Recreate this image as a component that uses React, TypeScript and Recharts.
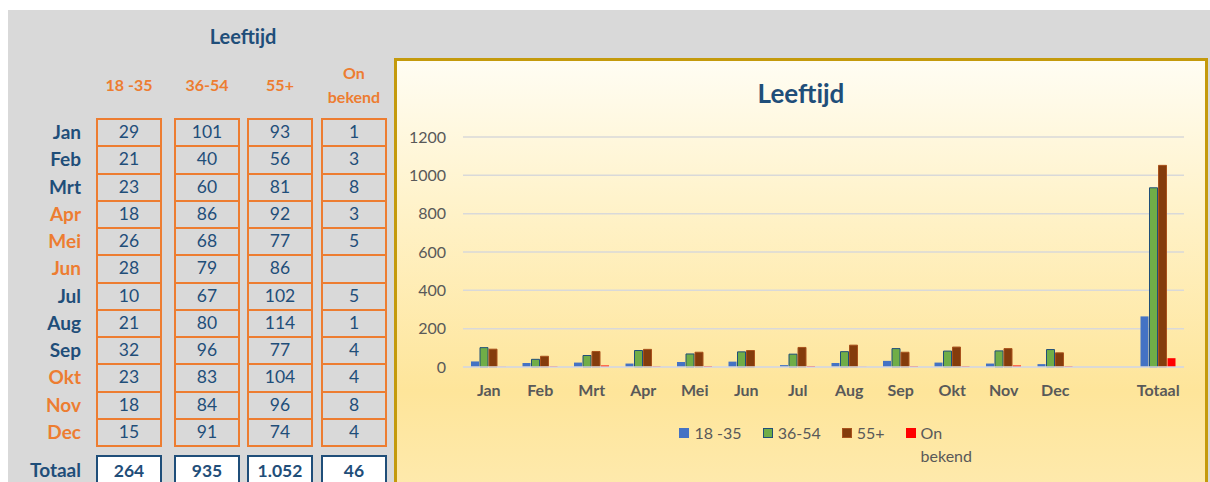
import React from "react";
import {
  BarChart,
  Bar,
  XAxis,
  YAxis,
  CartesianGrid,
  Legend,
} from "recharts";

const MONTHS = ["Jan", "Feb", "Mrt", "Apr", "Mei", "Jun", "Jul", "Aug", "Sep", "Okt", "Nov", "Dec"];
const AGE_GROUPS = ["18 -35", "36-54", "55+", "On bekend"];
const AGE_18_35 = [29, 21, 23, 18, 26, 28, 10, 21, 32, 23, 18, 15];
const AGE_36_54 = [101, 40, 60, 86, 68, 79, 67, 80, 96, 83, 84, 91];
const AGE_55_PLUS = [93, 56, 81, 92, 77, 86, 102, 114, 77, 104, 96, 74];
const AGE_UNKNOWN: (number | null)[] = [1, 3, 8, 3, 5, null, 5, 1, 4, 4, 8, 4];
const TOTALS = [264, 935, 1052, 46];
const TOTAL_LABEL = "Totaal";
const Y_TICKS = [0, 200, 400, 600, 800, 1000, 1200];

const COLUMNS = [AGE_18_35, AGE_36_54, AGE_55_PLUS, AGE_UNKNOWN];
const KEYS = ["a", "b", "c", "d"];

const BLUE = "#1f4e79";
const ORANGE = "#ed7d31";
const GREY_TXT = "#595959";
const FONT = "Lato, 'Open Sans', sans-serif";

const SERIES = [
  { key: "a", fill: "#4472c4", stroke: "none" },
  { key: "b", fill: "#70ad47", stroke: "#1f4e79" },
  { key: "c", fill: "#843c0c", stroke: "#a9521c" },
  { key: "d", fill: "#ff0000", stroke: "none" },
];

const chartData = [
  ...MONTHS.map((m, i) => ({ name: m, a: AGE_18_35[i], b: AGE_36_54[i], c: AGE_55_PLUS[i], d: AGE_UNKNOWN[i] })),
  { name: "", a: null, b: null, c: null, d: null },
  { name: TOTAL_LABEL, a: TOTALS[0], b: TOTALS[1], c: TOTALS[2], d: TOTALS[3] },
];

function fmt(n: number | null) {
  if (n === null) return "";
  return String(n).replace(/\B(?=(\d{3})+(?!\d))/g, ".");
}

// table column geometry (x of left edge)
const COL_X = [88, 166, 239, 313];
const COL_W = 66;
const ROW_TOP = 108;
const ROW_H = 27.25;

function DataTable() {
  return (
    <>
      <div
        style={{
          position: "absolute", left: 135, top: 12, width: 200, textAlign: "center",
          fontWeight: 700, fontSize: 20, color: BLUE, lineHeight: "28px",
        }}
      >
        Leeftijd
      </div>
      {AGE_GROUPS.map((g, j) => (
        <div
          key={g}
          style={{
            position: "absolute", left: COL_X[j] - 4, top: 51, width: COL_W + 8, height: 48,
            display: "flex", alignItems: "center", justifyContent: "center", textAlign: "center",
            fontWeight: 700, fontSize: 16, color: ORANGE, lineHeight: "24px",
          }}
        >
          <span style={{ maxWidth: 64 }}>{g}</span>
        </div>
      ))}
      {MONTHS.map((m, i) => (
        <div
          key={m}
          style={{
            position: "absolute", left: 0, width: 73, top: ROW_TOP + i * ROW_H, height: ROW_H,
            lineHeight: ROW_H + "px", textAlign: "right", fontWeight: 700, fontSize: 19,
            color: Math.floor(i / 3) % 2 === 0 ? BLUE : ORANGE,
          }}
        >
          {m}
        </div>
      ))}
      {COLUMNS.map((col, j) =>
        col.map((v, i) => (
          <div
            key={KEYS[j] + i}
            style={{
              position: "absolute", left: COL_X[j], top: ROW_TOP + i * ROW_H, width: COL_W,
              height: ROW_H + 2, boxSizing: "border-box", border: `2px solid ${ORANGE}`,
              textAlign: "center", lineHeight: ROW_H - 3 + "px", fontSize: 17.5, color: BLUE,
            }}
          >
            {fmt(v)}
          </div>
        ))
      )}
      <div
        style={{
          position: "absolute", left: 0, width: 73, top: 445, height: 30, lineHeight: "30px",
          textAlign: "right", fontWeight: 700, fontSize: 19, color: BLUE,
        }}
      >
        {TOTAL_LABEL}
      </div>
      {TOTALS.map((t, j) => (
        <div
          key={"t" + j}
          style={{
            position: "absolute", left: COL_X[j], top: 445, width: COL_W, height: 32,
            boxSizing: "border-box", border: `2px solid ${BLUE}`, background: "#fff",
            textAlign: "center", lineHeight: "27px", fontWeight: 700, fontSize: 17.5, color: BLUE,
          }}
        >
          {fmt(t)}
        </div>
      ))}
    </>
  );
}

function LegendContent() {
  return (
    <div
      style={{
        width: 808, height: 50, display: "flex", justifyContent: "center", gap: 21,
        paddingLeft: 58, boxSizing: "border-box", fontFamily: FONT, fontSize: 16, color: GREY_TXT,
        lineHeight: "23px",
      }}
    >
      {SERIES.map((s, j) => (
        <div key={s.key} style={{ display: "flex", alignItems: "flex-start" }}>
          <span
            style={{
              display: "inline-block", width: 10, height: 10, marginTop: 7, marginRight: 5,
              background: s.fill, boxSizing: "border-box",
              border: s.stroke === "none" ? "none" : `1px solid ${s.stroke}`,
            }}
          />
          <span style={{ maxWidth: 60 }}>{AGE_GROUPS[j]}</span>
        </div>
      ))}
    </div>
  );
}

function LeeftijdChart() {
  return (
    <div
      style={{
        position: "absolute", left: 386, top: 48, width: 814, height: 440, boxSizing: "border-box",
        border: "3px solid #c49a0c",
        background: "linear-gradient(180deg, #fffdf3 0%, #fff2c8 35%, #fee59a 76%, #feeaae 100%)",
      }}
    >
      <div
        style={{
          position: "absolute", left: 0, top: 16, width: 808, textAlign: "center",
          fontWeight: 700, fontSize: 26, color: BLUE, lineHeight: "32px",
        }}
      >
        Leeftijd
      </div>
      <BarChart
        width={808}
        height={421}
        data={chartData}
        margin={{ top: 76, right: 21, left: 0, bottom: 11 }}
        barSize={8}
        barGap={1}
      >
        <CartesianGrid vertical={false} stroke="#d9d9d9" strokeWidth={1.5} />
        <XAxis
          dataKey="name"
          interval={0}
          height={54}
          tickLine={false}
          tickSize={0}
          tickMargin={18}
          axisLine={{ stroke: "#d9d9d9", strokeWidth: 1.5 }}
          tick={{ fill: GREY_TXT, fontSize: 16, fontWeight: 700, fontFamily: FONT }}
        />
        <YAxis
          width={66}
          domain={[0, 1200]}
          ticks={Y_TICKS}
          axisLine={false}
          tickLine={false}
          tickSize={0}
          tickMargin={17}
          tick={{ fill: GREY_TXT, fontSize: 16, fontFamily: FONT }}
        />
        <Legend verticalAlign="bottom" wrapperStyle={{ left: 0 }} content={() => <LegendContent />} />
        {SERIES.map((s, j) => (
          <Bar
            key={s.key}
            dataKey={s.key}
            name={AGE_GROUPS[j]}
            fill={s.fill}
            stroke={s.stroke}
            strokeWidth={1}
            isAnimationActive={false}
          />
        ))}
      </BarChart>
    </div>
  );
}

export default function App() {
  return (
    <div
      style={{
        position: "absolute", left: 8, top: 10, width: 1202, height: 472, overflow: "hidden",
        background: "#d9d9d9", fontFamily: FONT,
      }}
    >
      <DataTable />
      <LeeftijdChart />
    </div>
  );
}
